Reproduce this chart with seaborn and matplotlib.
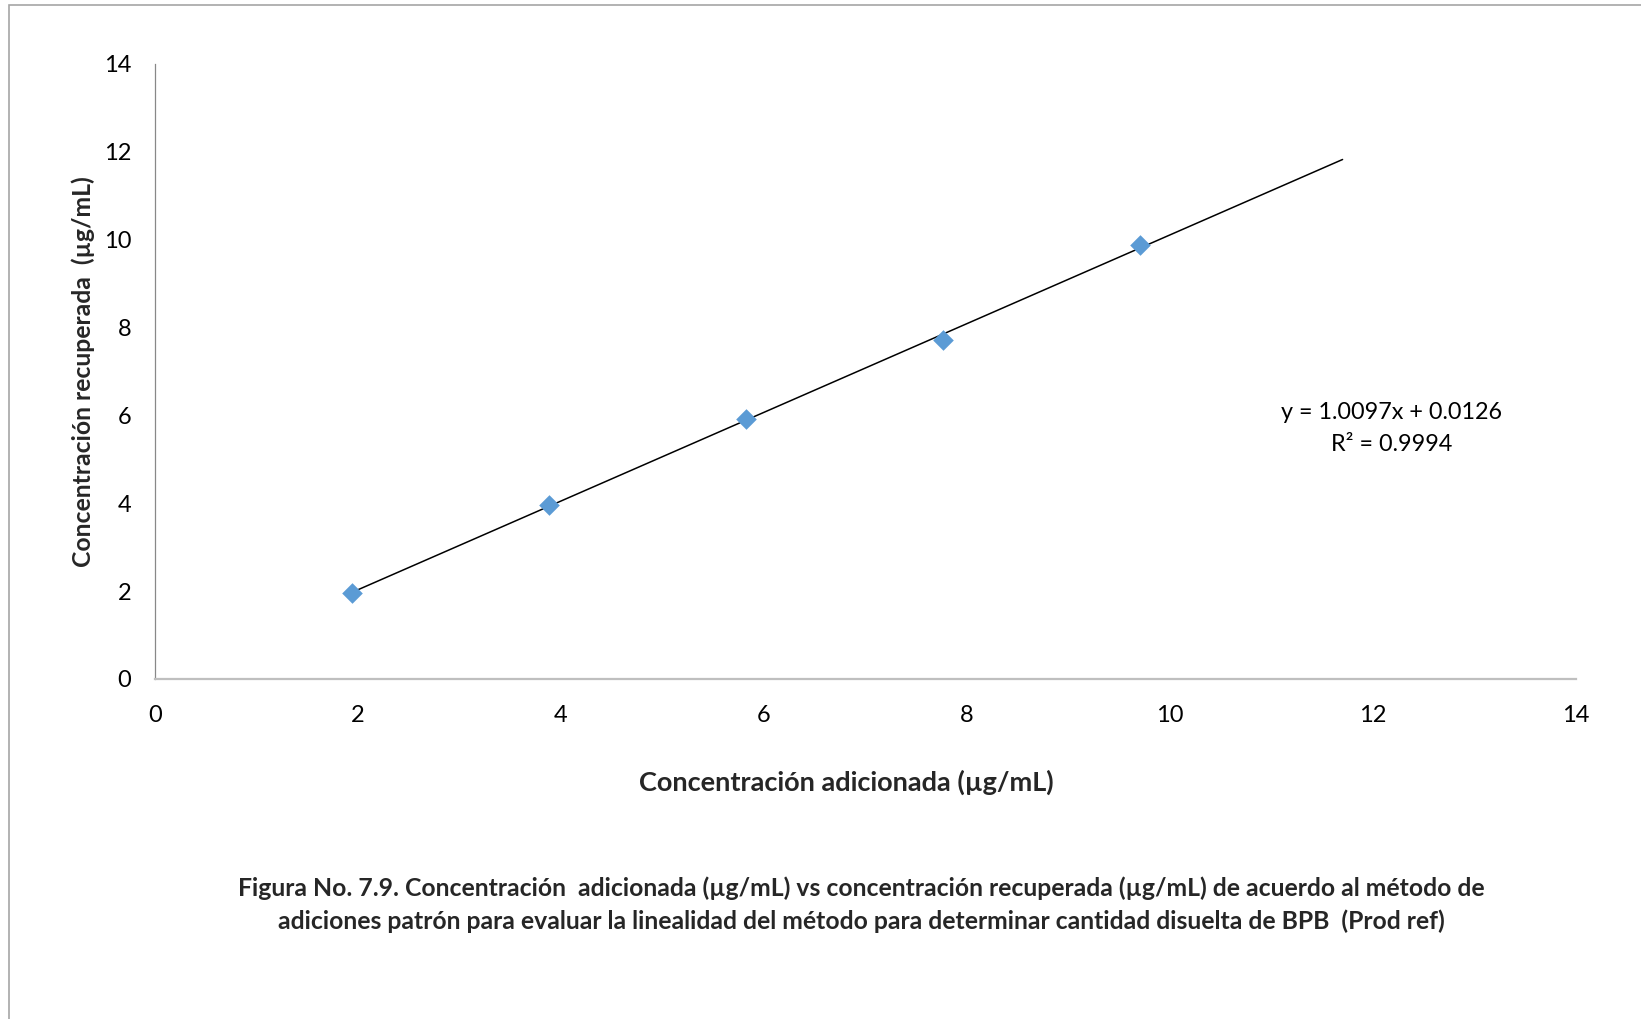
import matplotlib
matplotlib.use("Agg")
import matplotlib.pyplot as plt
from matplotlib.patches import Rectangle
import numpy as np
import pandas as pd
import seaborn as sns

# Standard additions: added vs recovered concentration (µg/mL)
added = [1.94, 3.88, 5.82, 7.76, 9.70]
recovered = [1.95, 3.96, 5.91, 7.72, 9.87]

# Linear trendline reported for the series
slope = 1.0097
intercept = 0.0126
r_squared = 0.9994
forecast_forward = 2.0

axis_ticks = [0, 2, 4, 6, 8, 10, 12, 14]

x_label = "Concentración adicionada (µg/mL)"
y_label = "Concentración recuperada  (µg/mL)"
caption = ("Figura No. 7.9. Concentración  adicionada (µg/mL) vs concentración recuperada (µg/mL) de acuerdo al método de\n"
           "adiciones patrón para evaluar la linealidad del método para determinar cantidad disuelta de BPB  (Prod ref)")

sns.set_theme(style="white")
plt.rcParams["font.family"] = ["Lato", "DejaVu Sans"]

df = pd.DataFrame({"added": added, "recovered": recovered})
x_end = max(added) + forecast_forward
trend = pd.DataFrame({"x": [min(added), x_end]})
trend["y"] = slope * trend["x"] + intercept

fig = plt.figure(figsize=(16.41, 10.19), dpi=100)
ax = fig.add_axes([0.0945, 0.3337, 0.8659, 0.6035])

sns.lineplot(data=trend, x="x", y="y", ax=ax, color="black", linewidth=1.1, zorder=2)
sns.scatterplot(data=df, x="added", y="recovered", ax=ax, marker="D", s=110,
                color="#5B9BD5", linewidth=0, zorder=3)

ax.set_xlim(0, 14)
ax.set_ylim(0, 14)
ax.set_xticks(axis_ticks)
ax.set_yticks(axis_ticks)
ax.tick_params(axis="both", length=0, labelsize=17, colors="black")
ax.tick_params(axis="x", pad=19)
ax.tick_params(axis="y", pad=17)

for side in ("top", "right"):
    ax.spines[side].set_visible(False)
ax.spines["left"].set_color("#888888")
ax.spines["left"].set_linewidth(0.9)
ax.spines["bottom"].set_color("#BFBFBF")
ax.spines["bottom"].set_linewidth(1.6)

ax.set_xlabel(x_label, fontsize=19.5, fontweight="bold", labelpad=31.5)
ax.xaxis.label.set_x(0.4868)
ax.set_ylabel(y_label, fontsize=17.8, fontweight="bold", labelpad=6.5)

ax.text(12.18, 5.7, f"y = {slope:.4f}x + {intercept:.4f}\nR² = {r_squared:.4f}",
        fontsize=16.8, ha="center", va="center", linespacing=1.6, color="black")

fig.text(0.525, 0.112, caption, fontsize=17.8, fontweight="bold",
         ha="center", va="center", linespacing=1.5)

# outer frame of the chart area
fig.patches.append(Rectangle((9 / 1641, -0.1), 1.2, 1 - 5 / 1019 + 0.1,
                             transform=fig.transFigure, fill=False,
                             edgecolor="#A6A6A6", linewidth=1.2))

fig.savefig("out.png", dpi=100)
